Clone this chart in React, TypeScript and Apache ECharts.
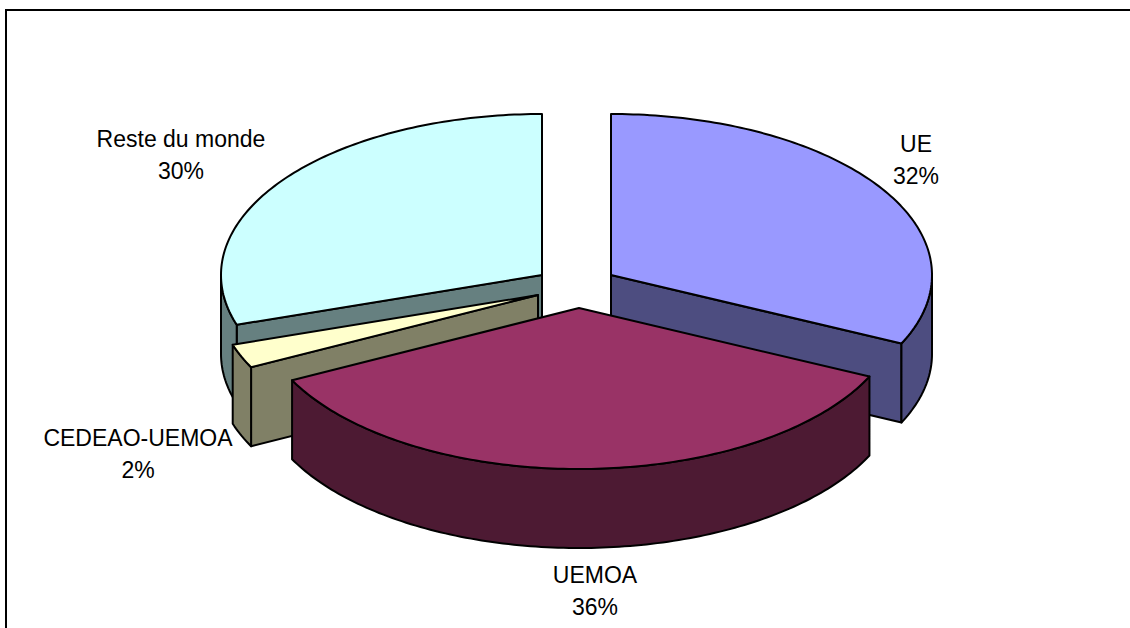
import React, { useEffect, useRef } from "react";
import * as echarts from "echarts";

// Slices, clockwise from 12 o'clock
const categories = ["UE", "UEMOA", "CEDEAO-UEMOA", "Reste du monde"];
const shares = [32, 35.6, 2.4, 30];
const topColors = ["#9999FF", "#993366", "#FFFFCC", "#CCFFFF"];
const wallColors = ["#4D4D80", "#4D1A33", "#808066", "#668080"];
// Painting order: back slices first
const drawOrder = [3, 0, 2, 1];
// Apex of each exploded slice
const apexes = [[611, 275], [579, 308], [538, 295], [542, 275]];
// Label centres (first line)
const labelSpots = [[916, 144], [595, 575], [138, 438], [181, 139]];
const labelPct = ["32%", "36%", "2%", "30%"];

const RX = 321;
const RY = 161;
const DEPTH = 79;
const LINE = "#000";
const LW = 2;

function App() {
  const ref = useRef<HTMLDivElement>(null);
  useEffect(() => {
    document.body.style.margin = "0";
    const chart = echarts.init(ref.current!, null, { renderer: "svg" });
    const total = shares.reduce((a, b) => a + b, 0);
    const rad = (d: number) => (d * Math.PI) / 180;
    const renderItem = (_: any, api: any) => {
      const i = api.value(0);
      const v = api.value(1);
      const before = shares.slice(0, i).reduce((a, b) => a + b, 0);
      const s = (before / total) * 360;
      const e = s + (v / total) * 360;
      const [cx, cy] = apexes[i];
      const pt = (t: number, d = 0) => [
        cx + RX * Math.sin(rad(t)),
        cy - RY * Math.cos(rad(t)) + d,
      ];
      const arc = (a: number, b: number, d = 0) => {
        const out: number[][] = [];
        const n = Math.max(2, Math.ceil(Math.abs(b - a)));
        for (let k = 0; k <= n; k++) out.push(pt(a + ((b - a) * k) / n, d));
        return out;
      };
      const style = (fill: string) => ({ fill, stroke: LINE, lineWidth: LW, lineJoin: "round" });
      const children: any[] = [];
      const wall = (t: number) => {
        children.push({
          type: "polygon",
          shape: { points: [[cx, cy], pt(t), pt(t, DEPTH), [cx, cy + DEPTH]] },
          style: style(wallColors[i]),
        });
      };
      // Radial wall faces that look toward the viewer
      if (Math.sin(rad(s)) < -1e-6) wall(s);
      if (Math.sin(rad(e)) > 1e-6) wall(e);
      // Outer rim (front half of the ellipse only)
      const a = Math.max(s, 90);
      const b = Math.min(e, 270);
      if (b > a) {
        children.push({
          type: "polygon",
          shape: { points: [...arc(a, b), ...arc(b, a, DEPTH)] },
          style: style(wallColors[i]),
        });
      }
      // Top face
      children.push({
        type: "polygon",
        shape: { points: [[cx, cy], ...arc(s, e)] },
        style: style(topColors[i]),
      });
      // Label
      const [lx, ly] = labelSpots[i];
      children.push({
        type: "text",
        style: {
          x: lx,
          y: ly - 16,
          text: `${categories[i]}\n${labelPct[i]}`,
          fill: "#000",
          font: '23px "Liberation Sans", Arial, sans-serif',
          lineHeight: 32,
          align: "center",
          verticalAlign: "top",
        },
      });
      return { type: "group", children };
    };
    chart.setOption({
      animation: false,
      backgroundColor: "#fff",
      graphic: [
        {
          type: "polyline",
          shape: { points: [[6, 640], [6, 10], [1140, 10]] },
          style: { fill: "none", stroke: "#000", lineWidth: 2 },
        },
      ],
      series: [
        {
          type: "custom",
          coordinateSystem: "none",
          renderItem,
          silent: true,
          clip: false,
          data: drawOrder.map((i) => [i, shares[i]]),
        },
      ],
    });
    return () => chart.dispose();
  }, []);
  return (
    <div
      ref={ref}
      style={{ position: "absolute", left: 0, top: 0, width: 1130, height: 628, overflow: "hidden" }}
    />
  );
}

export default App;
